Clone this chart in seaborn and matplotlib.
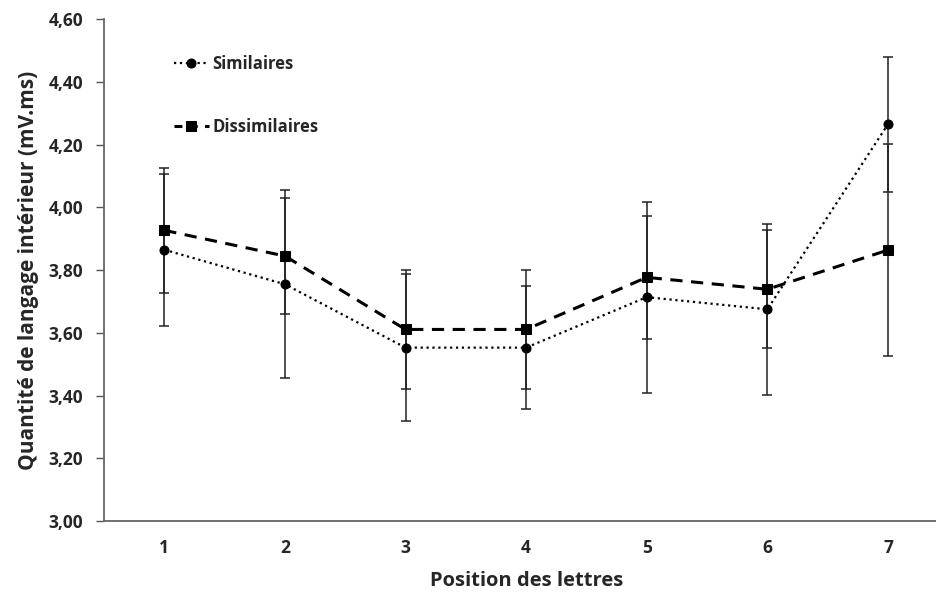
import numpy as np
import pandas as pd
import seaborn as sns
import matplotlib.pyplot as plt

# ---------------------- Data ---------------------------------------------
positions = [1, 2, 3, 4, 5, 6, 7]

similaires = [3.865, 3.755, 3.553, 3.553, 3.714, 3.675, 4.265]
similaires_err = [0.242, 0.300, 0.234, 0.195, 0.304, 0.272, 0.215]

dissimilaires = [3.927, 3.845, 3.611, 3.611, 3.777, 3.739, 3.864]
dissimilaires_err = [0.200, 0.186, 0.190, 0.190, 0.195, 0.188, 0.337]

y_ticks = [3.0, 3.2, 3.4, 3.6, 3.8, 4.0, 4.2, 4.4, 4.6]
y_tick_labels = ["3,00", "3,20", "3,40", "3,60", "3,80", "4,00", "4,20", "4,40", "4,60"]

# ------------------ Style ----------------------
sns.set_style("ticks")
plt.rcParams["font.family"] = ["Open Sans", "DejaVu Sans"]
plt.rcParams["font.weight"] = "bold"

fig = plt.figure(figsize=(9.37, 5.99), dpi=100)
ax = fig.add_axes([0.111, 0.130, 0.901, 0.838])

# error bars first so lines/markers sit on top
ax.errorbar(positions, similaires, yerr=similaires_err, fmt="none",
            ecolor="#222222", elinewidth=1.1, capsize=3.7, capthick=1.1, zorder=1)
ax.errorbar(positions, dissimilaires, yerr=dissimilaires_err, fmt="none",
            ecolor="#222222", elinewidth=1.1, capsize=3.7, capthick=1.1, zorder=1)

sns.lineplot(x=positions, y=similaires, ax=ax, label="Similaires",
             color="black", linestyle=":", linewidth=1.6,
             marker="o", markersize=6.5, markeredgecolor="black", zorder=3)
sns.lineplot(x=positions, y=dissimilaires, ax=ax, label="Dissimilaires",
             color="black", linestyle=(0, (4, 2.8)), linewidth=2.2,
             marker="s", markersize=6.5, markeredgecolor="black", zorder=3)

# ------------------ Axes ----------------------
ax.set_xlim(0.5, 7.5)
ax.set_ylim(3.0, 4.6)
ax.set_xticks(positions)
ax.set_xticklabels([str(p) for p in positions], fontsize=12.5, fontweight="bold")
ax.set_yticks(y_ticks)
ax.set_yticklabels(y_tick_labels, fontsize=12.5, fontweight="bold")
ax.tick_params(axis="x", length=0, pad=13)
ax.tick_params(axis="y", length=6, width=1, color="#555555", pad=9)

sns.despine(ax=ax)
for side in ["left", "bottom"]:
    ax.spines[side].set_color("#666666")
    ax.spines[side].set_linewidth(1.3)

ax.set_xlabel("Position des lettres", fontsize=14.5, fontweight="bold", labelpad=10)
ax.set_ylabel("Quantité de langage intérieur (mV.ms)", fontsize=15,
              fontweight="bold", labelpad=7)

leg = ax.legend(loc="upper left", bbox_to_anchor=(0.073, 0.945), frameon=False,
                handlelength=2.1, handletextpad=0.2, labelspacing=2.7,
                borderpad=0, prop={"size": 12, "weight": "bold"})
# shorter dashes in the legend key so the "- ■ -" look shows
leg.get_lines()[1].set_linestyle((0, (2.6, 2.4)))

fig.savefig("out.png", dpi=100)
